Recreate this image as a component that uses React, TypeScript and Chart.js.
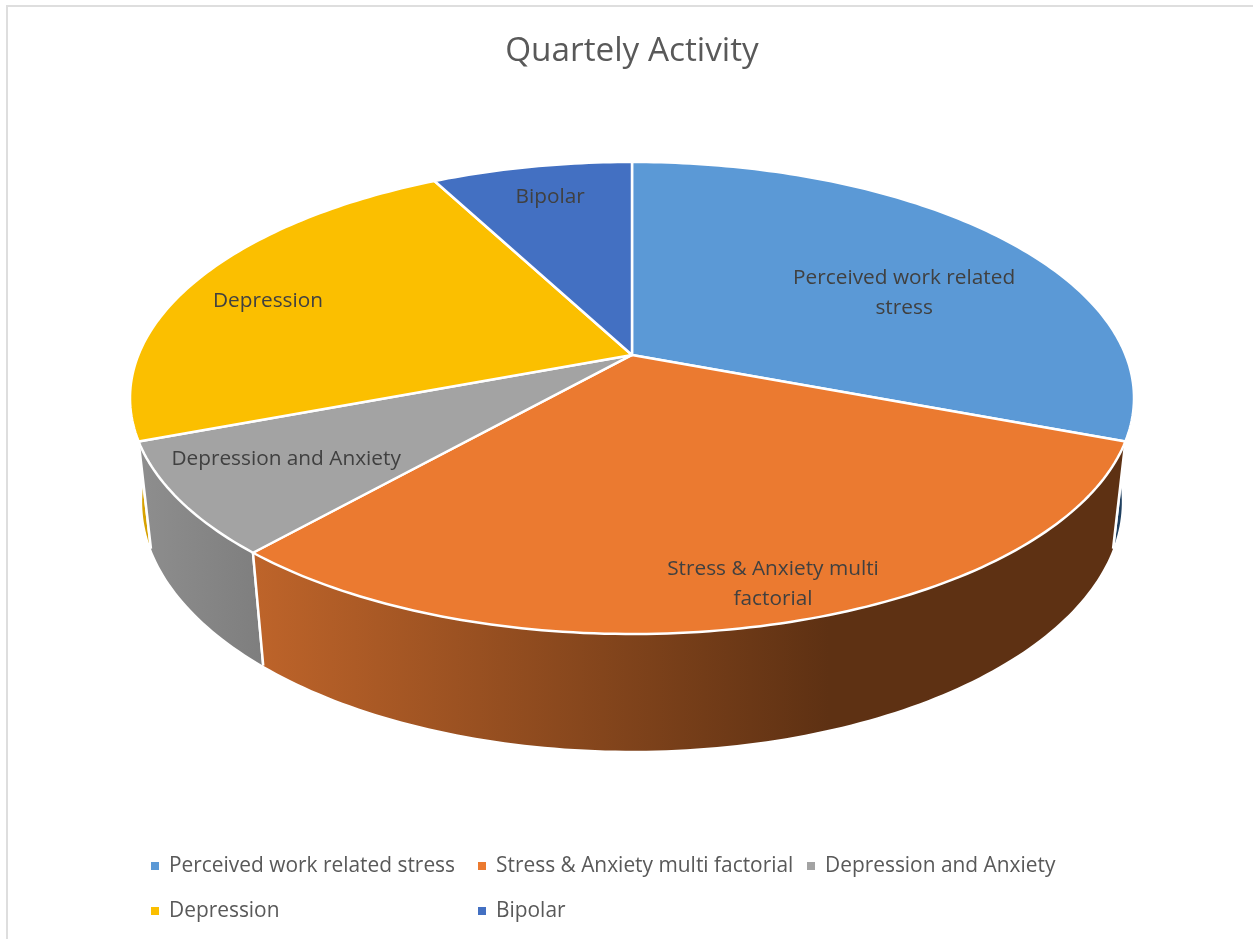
import React, { useEffect, useRef } from "react";
import { Chart, registerables } from "chart.js";

Chart.register(...registerables);

const categories = [
  "Perceived work related stress",
  "Stress & Anxiety multi factorial",
  "Depression and Anxiety",
  "Depression",
  "Bipolar",
];
const activity = [4, 4, 1, 3, 1];
const sliceColors = ["#5B99D6", "#EB7A30", "#A3A3A3", "#FBBF00", "#4370C2"];
const wallStops = [
  ["#1F4E79", "#1F3F5F"],
  ["#BE642A", "#5E3113"],
  ["#8E8E8E", "#7E7E7E"],
  ["#D9A300", "#B08400"],
  ["#2F5597", "#2F5597"],
];
const sliceLabelLines = [
  ["Perceived work related", "stress"],
  ["Stress & Anxiety multi", "factorial"],
  ["Depression and Anxiety"],
  ["Depression"],
  ["Bipolar"],
];
// where each label sits, in unit-pie coordinates
const labelU = [0.581, 0.2418, -0.648, -0.772, -0.19];
const labelV = [-0.2956, 0.842, 0.4133, -0.257, -0.804];

const legendRows = [[0, 1, 2], [3, 4]];
const legendColumnX = [151, 478, 807];
const legendRowY = [866, 911];

const FONT = '"Open Sans", "Noto Sans", sans-serif';
const TEXT = "#595959";
const LABEL = "#404040";

// perspective model of the tilted pie
const P = { c: -0.1822, a: 163.5, d: 493.6, e: 0.024, f: 113.5 };

const project = (cx: number, cy: number, u: number, v: number, z: number) => {
  const w = 1 + P.c * v + P.e * z;
  return { x: cx + (P.d * u) / w, y: (P.a * v + cy + P.f * z) / w };
};

const pie3d = {
  id: "pie3d",
  beforeDatasetsDraw(chart: any) {
    const { ctx, chartArea } = chart;
    const cx = (chartArea.left + chartArea.right) / 2;
    const cy = (chartArea.top + chartArea.bottom) / 2;
    const arcs = chart.getDatasetMeta(0).data;
    const pts = (s: number, e: number, z: number) => {
      const n = Math.max(2, Math.ceil(((e - s) * 180) / Math.PI));
      const out = [];
      for (let i = 0; i <= n; i++) {
        const t = s + ((e - s) * i) / n;
        out.push(project(cx, cy, Math.cos(t), Math.sin(t), z));
      }
      return out;
    };
    const line = (list: any[]) => list.forEach((p) => ctx.lineTo(p.x, p.y));

    ctx.save();
    ctx.lineJoin = "round";
    // outer walls, far ones first
    const order = [...arcs.keys()].sort((a: number, b: number) => {
      const m = (k: number) => Math.sin((arcs[k].startAngle + arcs[k].endAngle) / 2);
      return m(a) - m(b);
    });
    order.forEach((i: number) => {
      const arc = arcs[i];
      const top = pts(arc.startAngle, arc.endAngle, 0);
      const bottom = pts(arc.startAngle, arc.endAngle, 1).reverse();
      const xs = [...top, ...bottom].map((p) => p.x);
      const minX = Math.min(...xs);
      const maxX = Math.max(...xs);
      const g = ctx.createLinearGradient(minX, 0, maxX, 0);
      g.addColorStop(0, wallStops[i][0]);
      if (i === 1) g.addColorStop(0.66, wallStops[i][1]);
      g.addColorStop(1, wallStops[i][1]);
      ctx.beginPath();
      line(top);
      line(bottom);
      ctx.closePath();
      ctx.fillStyle = g;
      ctx.fill();
      ctx.strokeStyle = "#FFFFFF";
      ctx.lineWidth = 2.5;
      ctx.beginPath();
      ctx.moveTo(top[0].x, top[0].y);
      ctx.lineTo(bottom[bottom.length - 1].x, bottom[bottom.length - 1].y);
      ctx.moveTo(top[top.length - 1].x, top[top.length - 1].y);
      ctx.lineTo(bottom[0].x, bottom[0].y);
      ctx.stroke();
    });
    // top faces
    arcs.forEach((arc: any, i: number) => {
      ctx.beginPath();
      ctx.moveTo(cx, cy);
      line(pts(arc.startAngle, arc.endAngle, 0));
      ctx.closePath();
      ctx.fillStyle = sliceColors[i];
      ctx.fill();
      ctx.strokeStyle = "#FFFFFF";
      ctx.lineWidth = 2.5;
      ctx.stroke();
    });
    // slice labels
    ctx.fillStyle = LABEL;
    ctx.font = `20.8px ${FONT}`;
    ctx.textAlign = "center";
    ctx.textBaseline = "middle";
    sliceLabelLines.forEach((lines, i) => {
      const p = project(cx, cy, labelU[i], labelV[i], 0);
      lines.forEach((t, k) => {
        ctx.fillText(t, p.x, p.y + 2 + (k - (lines.length - 1) / 2) * 30);
      });
    });
    ctx.restore();
    return false;
  },
  afterDraw(chart: any) {
    const { ctx } = chart;
    ctx.save();
    // chart frame
    ctx.strokeStyle = "#DEDEDE";
    ctx.lineWidth = 2;
    ctx.beginPath();
    ctx.moveTo(7, 939);
    ctx.lineTo(7, 6);
    ctx.lineTo(1253, 6);
    ctx.stroke();
    // legend
    ctx.font = `20.9px ${FONT}`;
    ctx.textBaseline = "middle";
    ctx.textAlign = "left";
    legendRows.forEach((row, r) => {
      row.forEach((idx, c) => {
        const x = legendColumnX[c];
        const y = legendRowY[r];
        ctx.fillStyle = sliceColors[idx];
        ctx.fillRect(x, y - 4, 8, 8);
        ctx.fillStyle = TEXT;
        ctx.fillText(categories[idx], x + 18, y);
      });
    });
    ctx.restore();
  },
};

export default function App() {
  const ref = useRef<HTMLCanvasElement>(null);
  useEffect(() => {
    const chart = new Chart(ref.current!, {
      type: "pie",
      data: {
        labels: categories,
        datasets: [{ data: activity, backgroundColor: sliceColors, borderColor: "#FFFFFF", borderWidth: 2 }],
      },
      options: {
        responsive: false,
        animation: false,
        devicePixelRatio: 1,
        layout: { padding: { left: 11, right: 0, top: 0, bottom: 311 } },
        plugins: {
          legend: { display: false },
          tooltip: { enabled: false },
          title: {
            display: true,
            text: "Quartely Activity",
            color: TEXT,
            font: { family: FONT, size: 33.3, weight: "normal", lineHeight: 1.2 },
            padding: { top: 32, bottom: 10 },
          },
        },
      },
      plugins: [pie3d],
    } as any);
    return () => chart.destroy();
  }, []);
  return (
    <canvas
      ref={ref}
      width={1253}
      height={939}
      style={{ position: "absolute", left: 0, top: 0, display: "block" }}
    />
  );
}
